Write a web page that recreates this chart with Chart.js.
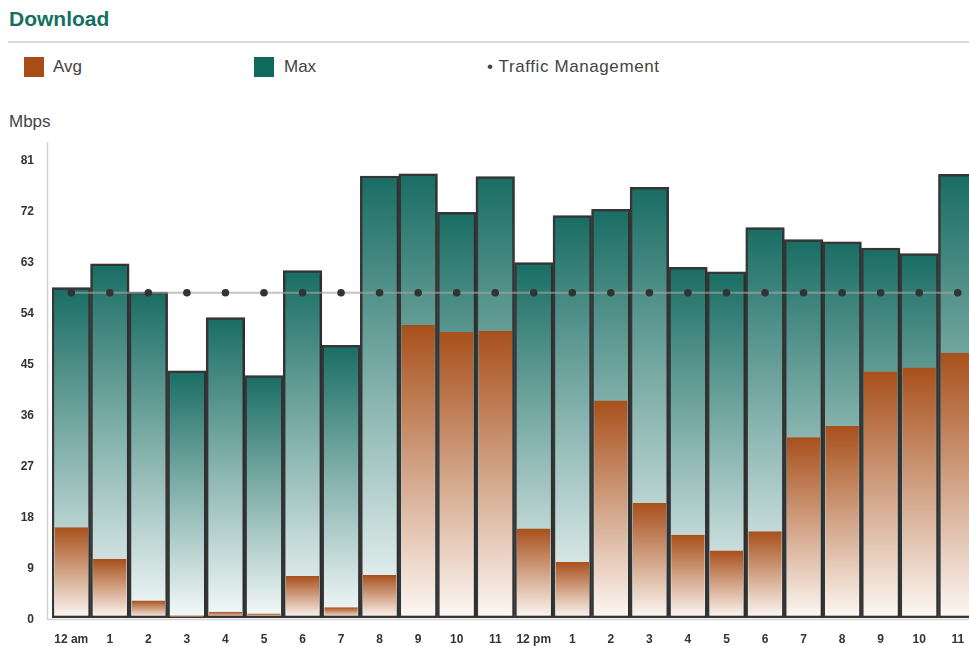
<!DOCTYPE html>
<html>
<head>
<meta charset="utf-8">
<title>Download</title>
<script src="https://cdn.jsdelivr.net/npm/chart.js@4/dist/chart.umd.min.js"></script>
<style>
  html, body { margin: 0; padding: 0; background: #fff; overflow: hidden; width: 969px; height: 646px; }
  body { position: relative; font-family: "Liberation Sans", Arial, Helvetica, sans-serif; color: #444; }
  .title { position: absolute; left: 9px; top: 7px; font-size: 21px; font-weight: bold; color: #16705f; }
  .rule { position: absolute; left: 8px; top: 41px; width: 961px; height: 2px; background: #dcdcdc; }
  .legend-item { position: absolute; top: 56px; height: 22px; line-height: 22px; font-size: 17px; color: #444; white-space: nowrap; }
  .swatch { position: absolute; left: 0; top: 1px; width: 20px; height: 20px; }
  .unit { position: absolute; left: 9px; top: 112px; font-size: 17px; color: #444; }
  #wrap { position: absolute; left: 0; top: 100px; width: 981px; height: 546px; }
</style>
</head>
<body>
<div class="title">Download</div>
<div class="rule"></div>
<div class="legend-item" style="left:24px;"><span class="swatch" style="background:#a84d18;"></span><span style="margin-left:29px;">Avg</span></div>
<div class="legend-item" style="left:254px;"><span class="swatch" style="background:#0f6a5d;"></span><span style="margin-left:30px;">Max</span></div>
<div class="legend-item" style="left:487px; letter-spacing:0.6px;">• Traffic Management</div>
<div class="unit">Mbps</div>
<div id="wrap"><canvas id="chart" width="981" height="546"></canvas></div>

<script>
// Hour-of-day categories
const hours = ['12 am','1','2','3','4','5','6','7','8','9','10','11',
               '12 pm','1','2','3','4','5','6','7','8','9','10','11'];

// Download speeds in Mbps
const avgSpeed = [16.0, 10.4, 3.1, 0.4, 1.1, 0.8, 7.4, 1.9, 7.6, 51.7, 50.5, 50.7,
                  15.8, 9.9, 38.4, 20.3, 14.7, 11.9, 15.3, 31.9, 33.9, 43.5, 44.2, 46.8];
const maxSpeed = [58.3, 62.5, 57.5, 43.6, 53.0, 42.8, 61.3, 48.1, 78.0, 78.4, 71.6, 77.9,
                  62.7, 71.0, 72.1, 76.0, 61.9, 61.1, 68.9, 66.8, 66.4, 65.3, 64.3, 78.3];
const trafficManagement = [57.4, 57.4, 57.4, 57.4, 57.4, 57.4, 57.4, 57.4, 57.4, 57.4, 57.4, 57.4,
                           57.4, 57.4, 57.4, 57.4, 57.4, 57.4, 57.4, 57.4, 57.4, 57.4, 57.4, 57.4];

// Value-axis ticks
const yTicks = [0, 9, 18, 27, 36, 45, 54, 63, 72, 81];
const yMax = 84;

// Vertical gradient spanning each bar from its top down to zero
function barGradient(topColor, bottomColor) {
  return (c) => {
    const chart = c.chart;
    if (c.type !== 'data' || !chart.chartArea) return topColor;
    const y = chart.scales.y;
    const top = y.getPixelForValue(c.raw);
    const bottom = y.getPixelForValue(0);
    if (!isFinite(top) || !isFinite(bottom) || top === bottom) return topColor;
    const g = chart.ctx.createLinearGradient(0, top, 0, bottom);
    g.addColorStop(0, topColor);
    g.addColorStop(1, bottomColor);
    return g;
  };
}

// Light axis lines set slightly apart from the bars, plus soft bar shadows
const axisFrame = {
  id: 'axisFrame',
  beforeDatasetsDraw(chart) {
    const { ctx, chartArea } = chart;
    ctx.save();
    ctx.strokeStyle = '#d2d2d2';
    ctx.lineWidth = 1.5;
    ctx.beginPath();
    ctx.moveTo(chartArea.left - 4.5, chartArea.top);
    ctx.lineTo(chartArea.left - 4.5, chartArea.bottom + 1.5);
    ctx.lineTo(chartArea.right + 10, chartArea.bottom + 1.5);
    ctx.stroke();
    ctx.restore();
  },
  beforeDatasetDraw(chart, args) {
    const ds = chart.data.datasets[args.index];
    if (ds.label === 'Max') {
      chart.ctx.save();
      chart.ctx.shadowColor = 'rgba(0,0,0,0.3)';
      chart.ctx.shadowBlur = 3;
      chart.ctx.shadowOffsetX = 1;
      chart.ctx.shadowOffsetY = 1;
    }
  },
  afterDatasetDraw(chart, args) {
    const ds = chart.data.datasets[args.index];
    if (ds.label === 'Max') chart.ctx.restore();
  }
};

new Chart(document.getElementById('chart'), {
  data: {
    labels: hours,
    datasets: [
      {
        type: 'line',
        label: 'Traffic Management',
        data: trafficManagement,
        order: 0,
        borderColor: 'rgba(165,165,165,0.65)',
        borderWidth: 2,
        pointRadius: 3.8,
        pointBackgroundColor: '#333',
        pointBorderWidth: 0,
        tension: 0
      },
      {
        type: 'bar',
        label: 'Avg',
        data: avgSpeed,
        order: 1,
        grouped: false,
        categoryPercentage: 1,
        barPercentage: 0.87,
        backgroundColor: barGradient('#a8501b', '#fdf8f4'),
        borderColor: '#363636',
        borderWidth: { top: 0, left: 0, right: 0, bottom: 2.5 },
        borderSkipped: false
      },
      {
        type: 'bar',
        label: 'Max',
        data: maxSpeed,
        order: 2,
        grouped: false,
        categoryPercentage: 1,
        barPercentage: 1,
        backgroundColor: barGradient('#196d63', '#f4f9f9'),
        borderColor: '#363636',
        borderWidth: 2.5,
        borderSkipped: false
      }
    ]
  },
  options: {
    responsive: false,
    animation: false,
    layout: { padding: { top: 42, right: 0, bottom: 0, left: 0 } },
    plugins: {
      legend: { display: false },
      tooltip: { enabled: false }
    },
    scales: {
      x: {
        offset: true,
        grid: { display: false, drawTicks: false },
        border: { display: false },
        ticks: {
          autoSkip: false,
          maxRotation: 0,
          padding: 14,
          color: '#333',
          font: { family: '"Liberation Sans", Arial, sans-serif', size: 12, weight: 'bold' }
        },
        afterFit(scale) { scale.height = 28; }
      },
      y: {
        min: 0,
        max: yMax,
        grid: { display: false, drawTicks: false },
        border: { display: false },
        ticks: {
          padding: 18,
          labelOffset: 2,
          color: '#333',
          font: { family: '"Liberation Sans", Arial, sans-serif', size: 12, weight: 'bold' }
        },
        afterBuildTicks(scale) { scale.ticks = yTicks.map(v => ({ value: v })); },
        afterFit(scale) { scale.width = 52; }
      }
    }
  },
  plugins: [axisFrame]
});
</script>
</body>
</html>
